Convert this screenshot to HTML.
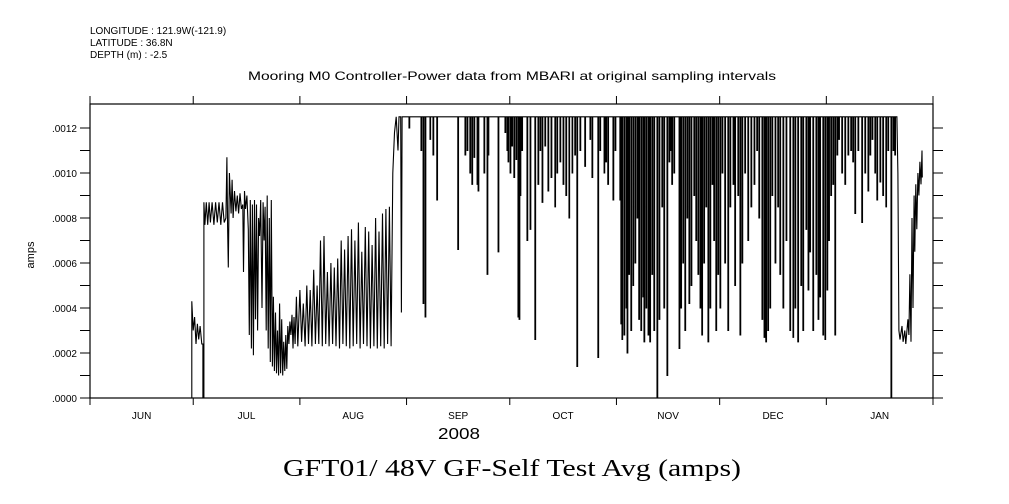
<!DOCTYPE html>
<html><head><meta charset="utf-8"><style>
body{margin:0;background:#fff}
svg{display:block}
text{font-family:"Liberation Sans",sans-serif;fill:#000}
</style></head><body>
<svg id="c" width="1009" height="504" viewBox="0 0 1009 504">
<text x="90" y="34" font-size="10">LONGITUDE : 121.9W(-121.9)</text>
<text x="90" y="46" font-size="10">LATITUDE : 36.8N</text>
<text x="90" y="58" font-size="10">DEPTH (m) : -2.5</text>
<text x="248" y="80" font-size="12" textLength="528" lengthAdjust="spacingAndGlyphs">Mooring M0 Controller-Power data from MBARI at original sampling intervals</text>
<text x="34" y="255" font-size="11" text-anchor="middle" transform="rotate(-90 34 255)">amps</text>
<text x="438" y="439" font-size="16" textLength="42" lengthAdjust="spacingAndGlyphs">2008</text>
<text x="283" y="476" font-size="24" textLength="458" lengthAdjust="spacingAndGlyphs" style="font-family:'Liberation Serif',serif">GFT01/ 48V GF-Self Test Avg (amps)</text>
<g id="axes"></g>
<g id="series"></g>
</svg>
<script>
const yTicks=[0,0.0001,0.0002,0.0003,0.0004,0.0005,0.0006,0.0007,0.0008,0.0009,0.0010,0.0011,0.0012];
const yTickLabels=[".0000","",".0002","",".0004","",".0006","",".0008","",".0010","",".0012"];
const monthStarts=[0,30,61,92,122,153,183,214,245];
const monthLabels=["JUN","JUL","AUG","SEP","OCT","NOV","DEC","JAN"];
// series in 1e-5 amps, time in days since Jun 1 2008
const oscDays=[29.6,29.6,30,30.4,30.8,31.2,31.6,32,32.5,32.8,32.8,33.1,33.1,33.4,33.8,34.2,34.6,35,35.5,36,36.5,37,37.5,38,38.5,39,39.5,39.8,40,40.2,40.5,41,41.3,41.6,42,42.4,42.8,43.2,43.6,44,44.4,44.6,44.9,45.2,45.6,46,46.3,46.6,46.9,47.2,47.5,47.8,48.1,48.4,48.7,49,49.3,49.6,50,50.3,50.6,50.9,51.2,51.5,51.8,52.1,52.4,52.7,53,53.3,53.6,53.9,54.2,54.5,54.8,55.1,55.4,55.7,56,56.3,56.6,56.9,57.2,57.5,57.8,58.1,58.4,58.7,59,59.3,59.6,60,60.4,61,61.5,62,62.5,63,63.5,64,64.5,65,65.5,66,66.5,67,67.5,68,68.5,69,69.5,70,70.5,71,71.5,72,72.5,73,73.5,74,74.5,75,75.5,76,76.5,77,77.5,78,78.5,79,79.5,80,80.5,81,81.5,82,82.5,83,83.5,84,84.5,85,85.5,86,86.5,87,87.5,88,88.5,89,89.5,89.8,90.3,90.5,90.7];
const oscVals=[0,43,30,36,24,33,26,32,24,24,0,0,87,77,87,77,87,78,87,77,87,78,87,77,87,78,80,107,76,58,100,82,97,80,92,83,90,82,91,84,86,56,92,84,90,75,28,88,22,86,19,88,35,86,30,80,72,88,40,87,70,85,30,90,22,80,16,88,14,45,12,38,11,30,10,42,11,35,10,25,12,28,13,32,24,34,28,37,22,36,24,45,23,48,25,42,23,50,24,48,23,57,24,50,24,70,23,72,24,56,23,60,24,58,23,62,22,70,24,66,23,72,22,75,23,70,24,78,22,65,24,76,23,74,22,68,23,80,22,74,23,82,22,84,24,85,23,100,118,125,110,125,125,38,125];
const plateau=125;
const spikeDays=[92.7,96.2,96.8,97.4,98.8,99.7,100.8,106.9,109.0,109.6,110.4,111.0,111.6,112.5,112.8,114.5,115.4,115.7,118.6,120.6,121.2,121.5,122.1,122.6,123.2,123.8,124.4,124.7,125.0,125.5,127.0,127.9,129.3,130.2,130.8,131.4,132.2,133.1,134.0,135.1,135.7,136.6,137.5,138.3,139.2,140.1,140.9,141.5,142.4,143.8,145.3,145.9,147.6,148.2,149.4,149.9,150.5,152.0,152.6,154.0,154.3,154.6,155.2,155.8,156.1,156.6,157.2,157.8,158.4,159.0,159.5,160.1,160.7,161.0,161.6,162.2,162.7,163.3,163.9,164.8,165.4,166.2,166.8,167.7,168.3,168.8,169.1,169.7,171.2,171.7,172.3,172.9,173.5,174.1,174.7,175.5,176.1,176.7,177.3,177.8,178.4,179.0,179.6,180.2,180.8,181.3,181.9,182.5,183.1,183.7,184.5,185.4,186.0,186.9,187.4,188.3,188.9,189.5,190.3,191.2,192.1,193.0,193.8,194.4,195.3,195.9,196.4,197.0,197.6,198.2,199.1,199.9,200.5,201.4,202.3,203.4,204.3,204.9,205.7,206.6,207.2,208.1,208.7,209.2,210.1,211.0,211.6,212.1,213.0,213.6,214.2,214.7,215.3,215.9,216.5,217.1,217.6,218.5,219.4,220.3,221.1,221.7,222.3,223.2,224.3,225.2,226.1,226.7,227.3,228.1,228.7,229.6,230.4,231.3,231.9,232.8,233.4,233.9];
const spikeLows=[120,110,42,36,115,108,88,66,108,110,100,95,107,95,92,100,55,108,65,118,110,105,100,112,98,106,36,35,90,110,70,75,26,95,110,87,112,92,98,85,100,105,95,90,80,100,108,14,110,103,115,98,18,110,100,105,95,88,110,88,33,26,28,40,20,55,30,50,60,80,35,30,45,25,40,28,25,55,30,0,35,85,40,10,105,110,95,100,22,40,60,30,80,42,50,90,70,55,40,28,60,85,25,40,95,70,30,55,40,100,60,30,85,95,50,90,28,60,100,70,85,95,110,80,35,27,25,30,40,90,60,85,55,40,70,30,27,40,25,50,30,75,48,65,30,55,35,45,28,26,48,70,90,95,28,108,115,100,95,108,110,105,82,110,78,100,92,108,115,100,88,96,90,85,110,0,110,108];
const tailDays=[234.5,234.8,235.1,235.4,236.0,236.3,236.8,237.1,237.7,238.0,238.3,238.6,238.9,239.2,239.5,239.7,240.0,240.3,240.6,240.9,241.2,241.5,241.8,241.9];
const tailVals=[125,100,30,26,32,25,30,24,35,28,55,25,80,40,90,65,95,75,100,90,105,95,110,98];

const L=90,R=933,T=104,B=398,D0=0,D1=245,V0=0,V1=0.0013067;
const xs=d=>L+(d-D0)/(D1-D0)*(R-L);
const ys=v=>B-(v-V0)/(V1-V0)*(B-T);
const NS="http://www.w3.org/2000/svg";
const ax=document.getElementById('axes'),sr=document.getElementById('series');
function mk(tag,at,par){const e=document.createElementNS(NS,tag);for(const k in at)e.setAttribute(k,at[k]);par.appendChild(e);return e;}
const fr=mk('rect',{x:L,y:T,width:R-L,height:B-T,fill:'none',stroke:'#000','stroke-width':1.2},ax);


yTicks.forEach((v,i)=>{
  const y=ys(v);
  const t1=mk('line',{x1:L-10,x2:L,y1:y,y2:y,stroke:'#000'},ax);
  
  
  const t2=mk('line',{x1:R,x2:R+10,y1:y,y2:y,stroke:'#000'},ax);
  
  
  if(yTickLabels[i]){const t=mk('text',{x:L-13,y:y+4,'font-size':10,'text-anchor':'end'},ax);t.textContent=yTickLabels[i];
  
  }
});
monthStarts.forEach(d=>{
  const x=xs(d);
  const a=mk('line',{x1:x,x2:x,y1:B,y2:B+7,stroke:'#000'},ax);
  
  
  const b=mk('line',{x1:x,x2:x,y1:T-8,y2:T,stroke:'#000'},ax);
  
  
});
monthLabels.forEach((m,i)=>{
  const x=(xs(monthStarts[i])+xs(monthStarts[i+1]))/2;
  const t=mk('text',{x:x,y:419,'font-size':10,'text-anchor':'middle'},ax);t.textContent=m;
  
  
});
let pts=[];
oscDays.forEach((d,i)=>pts.push([d,oscVals[i]]));
spikeDays.forEach((d,i)=>{pts.push([d,plateau]);pts.push([d,spikeLows[i]]);pts.push([d+0.2,spikeLows[i]]);pts.push([d+0.2,plateau]);});
tailDays.forEach((d,i)=>pts.push([d,tailVals[i]]));
const dstr=pts.map((p,i)=>(i?'L':'M')+xs(p[0]).toFixed(1)+' '+ys(p[1]*1e-5).toFixed(1)).join('');
const ln=mk('path',{d:dstr,fill:'none',stroke:'#000','stroke-width':1.1},sr);


</script>
</body></html>
